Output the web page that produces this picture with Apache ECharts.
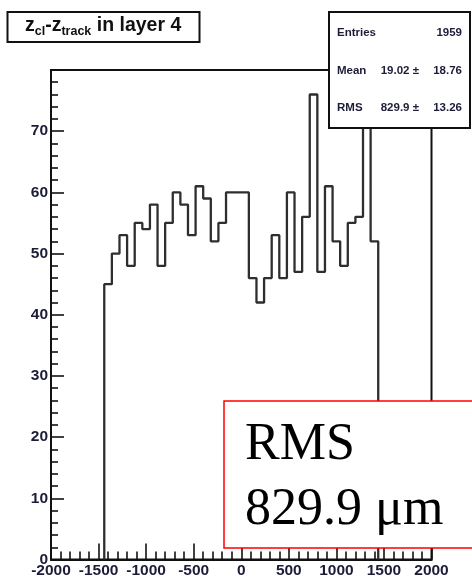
<!DOCTYPE html>
<html>
<head>
<meta charset="utf-8">
<script src="https://cdn.jsdelivr.net/npm/echarts@6/dist/echarts.min.js"></script>
<style>
  html, body { margin: 0; padding: 0; background: #fff; }
  #chart { width: 472px; height: 583px; }
</style>
</head>
<body>
<div id="chart"></div>
<script>
// Residual z_cl - z_track in layer 4: counts per 80-unit bin from -1440 to 1440
const counts = [45, 50, 53, 48, 55, 54, 58, 48, 55, 60, 58, 53, 61, 59, 52, 55, 60, 60,
                60, 46, 42, 46, 53, 46, 60, 47, 56, 76, 47, 61, 52, 48, 55, 56, 72, 52];
const binLow = -1440;
const binWidth = 80;

// Axis ranges
const xRange = [-2000, 2000];
const xStep = 500;
const yRange = [0, 80];
const yStep = 10;

// Statistics box rows
const statLabels = ['Entries', 'Mean', 'RMS'];
const statValues = ['1959', '19.02 \u00b1', '829.9 \u00b1'];
const statErrors = ['', '18.76', '13.26'];

// Annotation text
const noteLines = ['RMS', '829.9 \u03bcm'];

// Step outline points: rise from zero at the first edge, fall back at the last
const outline = [[binLow, 0]];
counts.forEach((c, i) => outline.push([binLow + i * binWidth, c]));
outline.push([binLow + counts.length * binWidth, counts[counts.length - 1]]);
outline.push([binLow + counts.length * binWidth, 0]);

const labelColor = '#1c1c38';
const sans = 'Liberation Sans, Arial, sans-serif';
const serif = 'Liberation Serif, Times New Roman, serif';

const statFont = 'bold 11.5px ' + sans;
const statGraphics = [];
const rowY = [33, 71, 108];
statLabels.forEach((lab, i) => {
  statGraphics.push({
    type: 'text', x: 337, y: rowY[i], z: 110,
    style: { text: lab, font: statFont, fill: labelColor, align: 'left', verticalAlign: 'middle' }
  });
  statGraphics.push({
    type: 'text', x: statErrors[i] ? 419 : 462, y: rowY[i], z: 110,
    style: { text: statValues[i], font: statFont, fill: labelColor, align: 'right', verticalAlign: 'middle' }
  });
  if (statErrors[i]) {
    statGraphics.push({
      type: 'text', x: 462, y: rowY[i], z: 110,
      style: { text: statErrors[i], font: statFont, fill: labelColor, align: 'right', verticalAlign: 'middle' }
    });
  }
});

const chart = echarts.init(document.getElementById('chart'), null, { renderer: 'canvas' });

chart.setOption({
  animation: false,
  backgroundColor: '#fff',
  grid: {
    left: 51, right: 40.5, top: 70, bottom: 23.5,
    show: true, borderColor: '#111', borderWidth: 2,
    containLabel: false, outerBoundsMode: 'none'
  },
  xAxis: {
    type: 'value',
    min: xRange[0], max: xRange[1], interval: xStep,
    axisLine: { show: true, onZero: false, lineStyle: { color: '#111', width: 2 } },
    axisTick: { show: true, inside: true, length: 16, lineStyle: { color: '#111', width: 1.6 } },
    minorTick: { show: true, splitNumber: 5, length: 8, lineStyle: { color: '#111', width: 1.6 } },
    splitLine: { show: false },
    axisLabel: {
      margin: 3, color: labelColor, fontFamily: sans, fontWeight: 'bold', fontSize: 15.5,
      showMinLabel: true, showMaxLabel: true,
      formatter: v => String(v)
    }
  },
  yAxis: {
    type: 'value',
    min: yRange[0], max: yRange[1], interval: yStep,
    axisLine: { show: true, onZero: false, lineStyle: { color: '#111', width: 2 } },
    axisTick: { show: true, inside: true, length: 13, lineStyle: { color: '#111', width: 1.6 } },
    minorTick: { show: true, splitNumber: 5, length: 7, lineStyle: { color: '#111', width: 1.6 } },
    splitLine: { show: false },
    axisLabel: {
      margin: 3, color: labelColor, fontFamily: sans, fontWeight: 'bold', fontSize: 15.5,
      formatter: v => (v === yRange[1] ? '' : String(v))
    }
  },
  series: [{
    type: 'line',
    step: 'end',
    data: outline,
    symbol: 'none',
    lineStyle: { color: '#2e2e2e', width: 2.3 },
    z: 2
  }],
  graphic: [
    // histogram title box
    {
      type: 'rect', z: 100,
      shape: { x: 7.5, y: 12, width: 192, height: 30 },
      style: { fill: '#fff', stroke: '#111', lineWidth: 2 }
    },
    {
      type: 'text', x: 25, y: 13, z: 110,
      style: {
        text: '{m|z}{s|cl}{m|-z}{s|track}{m| in layer 4}',
        verticalAlign: 'top',
        rich: {
          m: { font: 'bold 19.5px ' + sans, fill: '#111', lineHeight: 25, verticalAlign: 'middle' },
          s: { font: 'bold 12.5px ' + sans, fill: '#111', lineHeight: 12, verticalAlign: 'bottom' }
        }
      }
    },
    // statistics box
    {
      type: 'rect', z: 100,
      shape: { x: 329, y: 12, width: 141, height: 116 },
      style: { fill: '#fff', stroke: '#111', lineWidth: 2 }
    },
    ...statGraphics,
    // RMS annotation box
    {
      type: 'rect', z: 100,
      shape: { x: 224, y: 401, width: 260, height: 147 },
      style: { fill: '#fff', stroke: '#ff0000', lineWidth: 1.5 }
    },
    {
      type: 'text', x: 245, y: 445, z: 110,
      style: { text: noteLines[0], font: '52px ' + serif, fill: '#000', align: 'left', verticalAlign: 'middle' }
    },
    {
      type: 'text', x: 245, y: 510, z: 110,
      style: { text: noteLines[1], font: '52px ' + serif, fill: '#000', align: 'left', verticalAlign: 'middle' }
    }
  ]
});
</script>
</body>
</html>
